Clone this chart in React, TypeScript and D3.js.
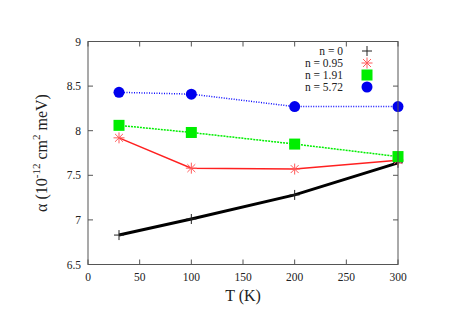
import React, { useEffect, useRef } from "react";
import * as d3 from "d3";

const temps = [30, 100, 200, 300];
const n0 = [6.83, 7.01, 7.28, 7.64];
const n095 = [7.92, 7.58, 7.57, 7.67];
const n191 = [8.06, 7.98, 7.85, 7.71];
const n572 = [8.43, 8.41, 8.27, 8.27];
const legendLabels = ["n = 0", "n = 0.95", "n = 1.91", "n = 5.72"];
const xTicks = [0, 50, 100, 150, 200, 250, 300];
const yTicks = [6.5, 7, 7.5, 8, 8.5, 9];

const App = () => {
  const svgRef = useRef<SVGSVGElement>(null);

  useEffect(() => {
    const width = 457;
    const height = 323;
    const m = { left: 88, right: 398, top: 41.5, bottom: 264.5 };
    const font = "Liberation Serif, Times New Roman, DejaVu Serif, serif";

    const svg = d3.select(svgRef.current);
    svg.selectAll("*").remove();
    svg.attr("width", width).attr("height", height).style("font-family", font);

    const x = d3.scaleLinear().domain([0, 300]).range([m.left, m.right]);
    const y = d3.scaleLinear().domain([6.5, 9]).range([m.bottom, m.top]);

    // ticks (gnuplot style, inward, mirrored)
    const tk = 5;
    const g = svg.append("g").attr("stroke", "#555").attr("stroke-width", 1);
    xTicks.forEach((t) => {
      g.append("line").attr("x1", x(t)).attr("x2", x(t)).attr("y1", m.bottom).attr("y2", m.bottom - tk);
      g.append("line").attr("x1", x(t)).attr("x2", x(t)).attr("y1", m.top).attr("y2", m.top + tk);
    });
    yTicks.forEach((t) => {
      g.append("line").attr("x1", m.left).attr("x2", m.left + tk).attr("y1", y(t)).attr("y2", y(t));
      g.append("line").attr("x1", m.right).attr("x2", m.right - tk).attr("y1", y(t)).attr("y2", y(t));
    });

    // tick labels
    xTicks.forEach((t) => {
      svg
        .append("text")
        .attr("x", x(t))
        .attr("y", 281)
        .attr("text-anchor", "middle")
        .style("font-size", "11.5px")
        .attr("fill", "#222")
        .text(t);
    });
    yTicks.forEach((t) => {
      svg
        .append("text")
        .attr("x", 81)
        .attr("y", y(t) + 4)
        .attr("text-anchor", "end")
        .style("font-size", "11.5px")
        .attr("fill", "#222")
        .text(t);
    });

    // axis titles
    svg
      .append("text")
      .attr("x", 243)
      .attr("y", 301)
      .attr("text-anchor", "middle")
      .style("font-size", "16px")
      .attr("fill", "#222")
      .text("T (K)");

    const yl = svg
      .append("text")
      .attr("transform", "translate(47,153) rotate(-90)")
      .attr("text-anchor", "middle")
      .style("font-size", "16px")
      .attr("fill", "#222");
    yl.append("tspan").text("α (10");
    yl.append("tspan").attr("dy", -7).style("font-size", "11px").text("-12");
    yl.append("tspan").attr("dy", 7).text(" cm");
    yl.append("tspan").attr("dy", -7).style("font-size", "11px").text("2");
    yl.append("tspan").attr("dy", 7).text(" meV)");

    const line = d3
      .line<number>()
      .x((_, i) => x(temps[i]))
      .y((d) => y(d));

    const series = [
      { vals: n0, color: "#000", width: 3, dash: null, marker: "plus" },
      { vals: n095, color: "#ff2020", width: 1.5, dash: null, marker: "star" },
      { vals: n191, color: "#00ee00", width: 1.5, dash: "2,1", marker: "square" },
      { vals: n572, color: "#1010ff", width: 1.5, dash: "1,1.5", marker: "circle" },
    ];

    const drawMarker = (
      sel: d3.Selection<any, unknown, null, undefined>,
      type: string,
      cx: number,
      cy: number
    ) => {
      if (type === "plus") {
        sel.append("path").attr("d", `M${cx - 5},${cy}H${cx + 5}M${cx},${cy - 5}V${cy + 5}`).attr("stroke", "#222").attr("stroke-width", 1);
      } else if (type === "star") {
        const r = 5.5;
        const d = r * 0.72;
        sel
          .append("path")
          .attr(
            "d",
            `M${cx - r},${cy}H${cx + r}M${cx},${cy - r}V${cy + r}M${cx - d},${cy - d}L${cx + d},${cy + d}M${cx - d},${cy + d}L${cx + d},${cy - d}`
          )
          .attr("stroke", "#ff5a5a")
          .attr("stroke-width", 1);
      } else if (type === "square") {
        sel.append("rect").attr("x", cx - 5.5).attr("y", cy - 5.5).attr("width", 11).attr("height", 11).attr("fill", "#00ee00");
      } else {
        sel.append("circle").attr("cx", cx).attr("cy", cy).attr("r", 5.5).attr("fill", "#0000ee");
      }
    };

    series.forEach((s) => {
      const p = svg
        .append("path")
        .datum(s.vals)
        .attr("d", line)
        .attr("fill", "none")
        .attr("stroke", s.color)
        .attr("stroke-width", s.width);
      if (s.dash) p.attr("stroke-dasharray", s.dash);
      s.vals.forEach((v, i) => drawMarker(svg, s.marker, x(temps[i]), y(v)));
    });

    // frame
    svg
      .append("rect")
      .attr("x", m.left)
      .attr("y", m.top)
      .attr("width", m.right - m.left)
      .attr("height", m.bottom - m.top)
      .attr("fill", "none")
      .attr("stroke", "#555")
      .attr("stroke-width", 1);

    // legend
    legendLabels.forEach((lab, i) => {
      const ly = 51 + i * 12;
      svg
        .append("text")
        .attr("x", 343)
        .attr("y", ly + 4)
        .attr("text-anchor", "end")
        .style("font-size", "11.5px")
        .attr("fill", "#222")
        .text(lab);
      drawMarker(svg, series[i].marker, 367, ly);
    });
  }, []);

  return (
    <div style={{ position: "absolute", left: 0, top: 0 }}>
      <svg ref={svgRef}></svg>
    </div>
  );
};

export default App;
